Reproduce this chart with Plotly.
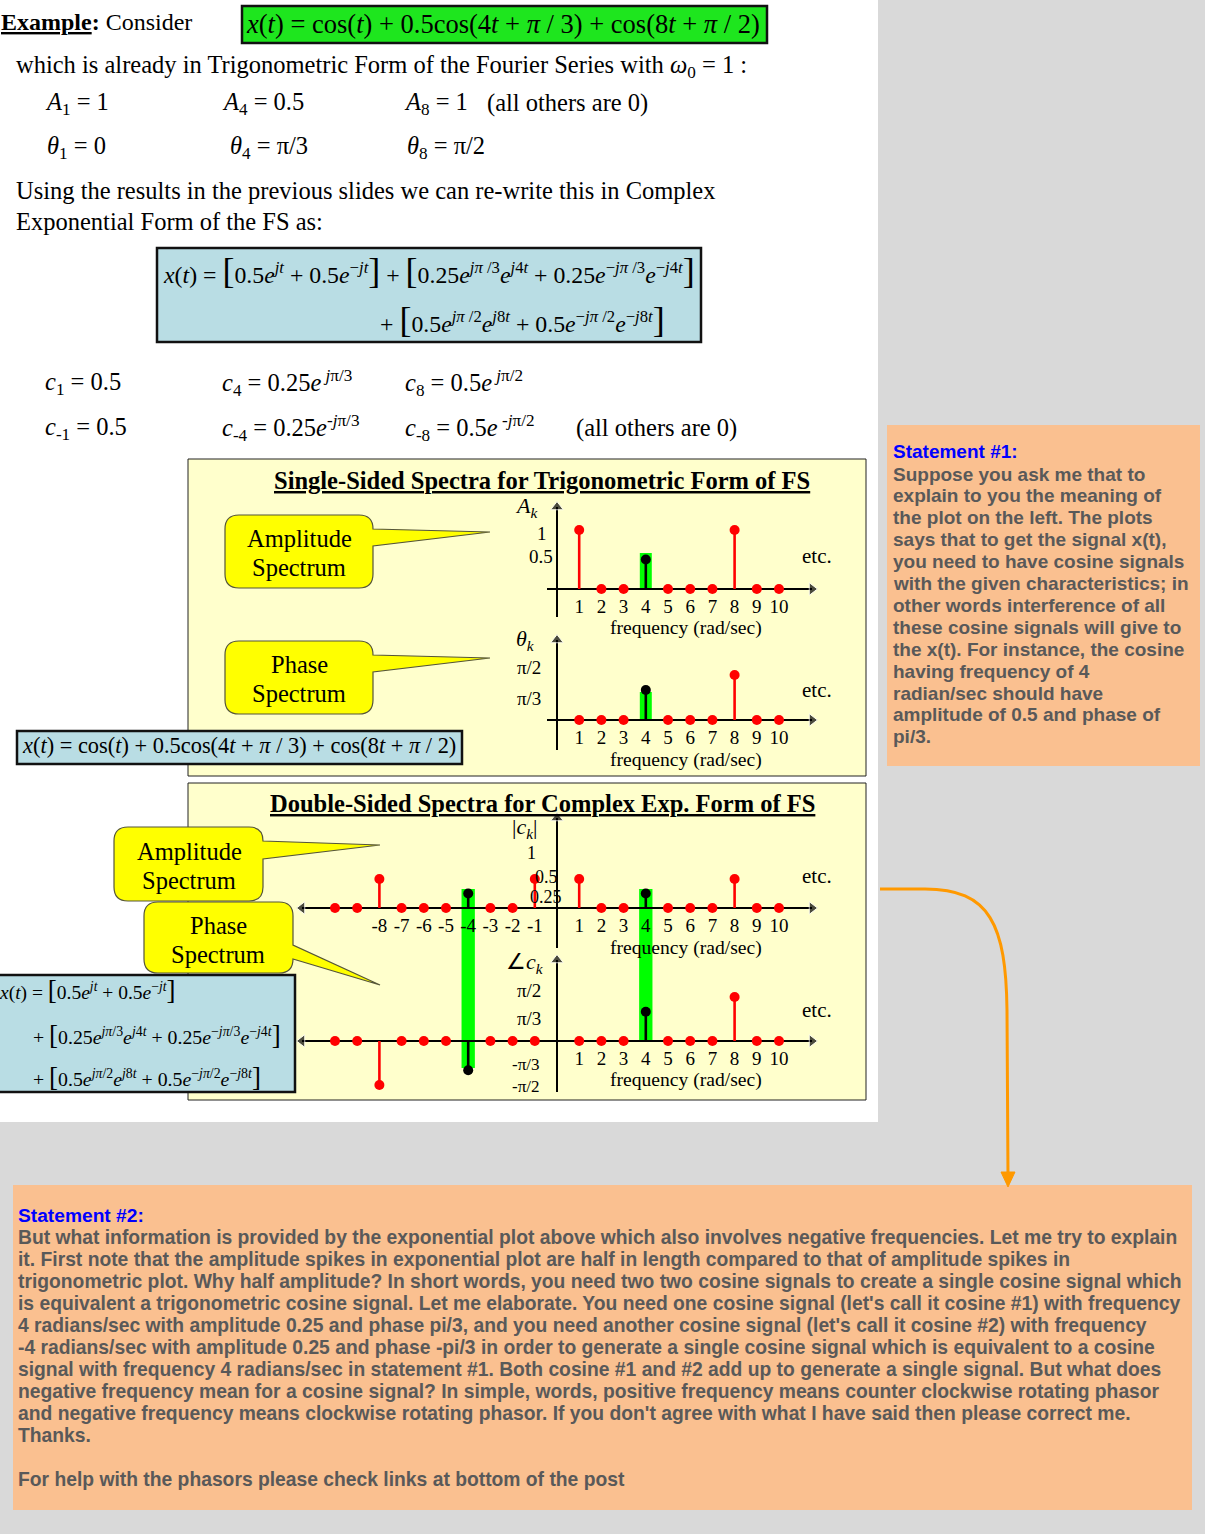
import math
import plotly.graph_objects as go

W, H = 1205, 1534
SERIF = "Liberation Serif, Times New Roman, serif"
SANS = "Liberation Sans, Arial, sans-serif"
PI = math.pi

# ---------------- data ----------------
k_single = list(range(1, 11))
A_k = [1, 0, 0, 0.5, 0, 0, 0, 1, 0, 0]
theta_k = [0, 0, 0, PI / 3, 0, 0, 0, PI / 2, 0, 0]
k_double = list(range(-10, 0)) + list(range(1, 11))
c_mag = [0, 0, 0.5, 0, 0, 0, 0.25, 0, 0, 0.5,
         0.5, 0, 0, 0.25, 0, 0, 0, 0.5, 0, 0]
c_phase = [0, 0, -PI / 2, 0, 0, 0, -PI / 3, 0, 0, 0,
           0, 0, 0, PI / 3, 0, 0, 0, PI / 2, 0, 0]
highlight_k = [-4, 4]

xt_single = list(range(1, 11))
xt_single_txt = [str(v) for v in xt_single]
xt_double = list(range(-8, 0)) + list(range(1, 11))
xt_double_txt = [str(v) for v in xt_double]
amp_ticks, amp_txt = [1, 0.5], ["1", "0.5"]
ph_ticks, ph_txt = [PI / 2, PI / 3], ["π/2", "π/3"]
cmag_ticks, cmag_txt = [1, 0.5, 0.25], ["1", "0.5", "0.25"]
cph_ticks, cph_txt = [PI / 2, PI / 3, -PI / 3, -PI / 2], ["π/2", "π/3", "-π/3", "-π/2"]

stmt1 = ["Suppose you ask me that to",
         "explain to you the meaning of",
         "the plot on the left. The plots",
         "says that to get the signal x(t),",
         "you need to have cosine signals",
         "with the given characteristics; in",
         "other words interference of all",
         "these cosine signals will give to",
         "the x(t). For instance, the cosine",
         "having frequency of 4",
         "radian/sec should have",
         "amplitude of 0.5 and phase of",
         "pi/3."]
stmt2 = ["But what information is provided by the exponential plot above which also involves negative frequencies. Let me try to explain",
         "it. First note that the amplitude spikes in exponential plot are half in length compared to that of amplitude spikes in",
         "trigonometric plot. Why half amplitude? In short words, you need two two cosine signals to create a single cosine signal which",
         "is equivalent a trigonometric cosine signal. Let me elaborate. You need one cosine signal (let's call it cosine #1) with frequency",
         "4 radians/sec with amplitude 0.25 and phase pi/3, and you need another cosine signal (let's call it cosine #2) with frequency",
         "-4 radians/sec with amplitude 0.25 and phase -pi/3 in order to generate a single cosine signal which is equivalent to a cosine",
         "signal with frequency 4 radians/sec in statement #1. Both cosine #1 and #2 add up to generate a single signal. But what does",
         "negative frequency mean for a cosine signal? In simple, words, positive frequency means counter clockwise rotating phasor",
         "and negative frequency means clockwise rotating phasor. If you don't agree with what I have said then please correct me.",
         "Thanks.",
         "",
         "For help with the phasors please check links at bottom of the post"]

# ---------------- helpers ----------------
fig = go.Figure()
shapes, anns = [], []
K0, DK = 557.0, 22.2


def kx(px):
    return (px - K0) / DK


def P(x, y):
    return f"{x / W:.5f},{1 - y / H:.5f}"


def rect(x0, y0, x1, y1, fill, line=None, lw=0, layer="below"):
    shapes.append(dict(type="rect", xref="paper", yref="paper",
                       x0=x0 / W, x1=x1 / W, y0=1 - y1 / H, y1=1 - y0 / H,
                       fillcolor=fill, line=dict(color=line or fill, width=lw), layer=layer))


def text(t, x, y, size=24.5, family=SERIF, color="black", xanchor="left"):
    if xanchor == "left":
        x -= 2
    anns.append(dict(text=t, x=x / W, y=1 - y / H, xref="paper", yref="paper",
                     showarrow=False, xanchor=xanchor, yanchor="middle", align="left",
                     font=dict(family=family, size=size, color=color)))


def callout(x0, y0, x1, y1, pa, pb, tip, r=14):
    pa = max(pa, y0 + r)
    pb = min(pb, y1 - r)
    d = (f"M{P(x0 + r, y0)} L{P(x1 - r, y0)} Q{P(x1, y0)} {P(x1, y0 + r)} "
         f"L{P(x1, pa)} L{P(*tip)} L{P(x1, pb)} L{P(x1, y1 - r)} "
         f"Q{P(x1, y1)} {P(x1 - r, y1)} L{P(x0 + r, y1)} Q{P(x0, y1)} {P(x0, y1 - r)} "
         f"L{P(x0, y0 + r)} Q{P(x0, y0)} {P(x0 + r, y0)} Z")
    shapes.append(dict(type="path", xref="paper", yref="paper", path=d,
                       fillcolor="#ffff00", line=dict(color="#55553a", width=1.2), layer="above"))


def it(s):
    return f"<i>{s}</i>"


def sup(s):
    return f"<sup>{s}</sup>"


def sub(s):
    return f"<sub>{s}</sub>"


def br(ch, size):
    return f'<span style="font-size:{size}px">{ch}</span>'


# ---------------- backgrounds ----------------
rect(0, 0, 878, 1122, "#ffffff")
rect(188, 459, 866, 776, "#ffffcc", "#222222", 1)
rect(188, 783, 866, 1100, "#ffffcc", "#222222", 1)

# ---------------- subplots ----------------
# label styling: (x centre in px, vertical nudge in px, font size) for each y tick label, in tick order
PLOTS = [
    dict(idx=1, base=589, scale=59.0, top=500, bot=625, xl=547, yb=617, yt=507, double=False,
         k=k_single, v=A_k, xt=xt_single, xtt=xt_single_txt, yt_v=amp_ticks, yt_t=amp_txt,
         lab=[(542, -3, 19), (541, 3, 19)]),
    dict(idx=2, base=720, scale=28.65, top=632, bot=755, xl=547, yb=750, yt=640, double=False,
         k=k_single, v=theta_k, xt=xt_single, xtt=xt_single_txt, yt_v=ph_ticks, yt_t=ph_txt,
         lab=[(529, 8, 19), (529, -8, 19)]),
    dict(idx=3, base=908, scale=58.0, top=812, bot=952, xl=302, yb=948, yt=818, double=True,
         k=k_double, v=c_mag, xt=xt_double, xtt=xt_double_txt, yt_v=cmag_ticks, yt_t=cmag_txt,
         lab=[(531, -3, 18), (546, 2, 18), (546, -4, 18)]),
    dict(idx=4, base=1041, scale=28.0, top=955, bot=1096, xl=302, yb=1092, yt=960, double=True,
         k=k_double, v=c_phase, xt=xt_single, xtt=xt_single_txt, yt_v=cph_ticks, yt_t=cph_txt,
         lab=[(529, 7, 19), (529, -7, 19), (525, 6, 17), (525, -2, 17)]),
]

layout_axes = {}
for p in PLOTS:
    i = p["idx"]
    xn = "x" if i == 1 else f"x{i}"
    yn = "y" if i == 1 else f"y{i}"
    xa = "xaxis" if i == 1 else f"xaxis{i}"
    ya = "yaxis" if i == 1 else f"yaxis{i}"
    layout_axes[xa] = dict(domain=[290 / W, 825 / W], range=[kx(290), kx(825)],
                           anchor="free", position=1 - p["base"] / H,
                           tickvals=p["xt"], ticktext=p["xtt"], ticks="",
                           showgrid=False, zeroline=False, showline=False,
                           ticklabelstandoff=4,
                           tickfont=dict(family=SERIF, size=19, color="black"))
    s = p["scale"]
    layout_axes[ya] = dict(domain=[1 - p["bot"] / H, 1 - p["top"] / H],
                           range=[(p["base"] - p["bot"]) / s, (p["base"] - p["top"]) / s],
                           anchor="free", position=K0 / W, showticklabels=False,
                           showgrid=False, zeroline=False, showline=False)
    # y tick labels placed on the data scale (with small typographic nudges)
    for val, lbl, (xc, dy, fs) in zip(p["yt_v"], p["yt_t"], p["lab"]):
        anns.append(dict(text=lbl, x=xc / W, xref="paper", y=val, yref=yn, yshift=dy,
                         showarrow=False, xanchor="center", yanchor="middle",
                         font=dict(family=SERIF, size=fs, color="black")))
    # axis lines with arrow heads
    fig.add_trace(go.Scatter(x=[kx(p["xl"]), kx(812)], y=[0, 0], xaxis=xn, yaxis=yn,
                             mode="lines+markers", hoverinfo="skip", showlegend=False,
                             line=dict(color="black", width=2),
                             marker=dict(color="black", size=[11 if p["double"] else 0, 11],
                                         symbol=["triangle-left", "triangle-right"])))
    fig.add_trace(go.Scatter(x=[0, 0], y=[(p["base"] - p["yb"]) / s, (p["base"] - p["yt"]) / s],
                             xaxis=xn, yaxis=yn, mode="lines+markers", hoverinfo="skip",
                             showlegend=False, line=dict(color="black", width=2),
                             marker=dict(color="black", size=[0, 11], symbol="triangle-up")))
    # stems
    for color, hl in (("#ff0000", False), ("#000000", True)):
        sx, sy, mx, my = [], [], [], []
        for k, v in zip(p["k"], p["v"]):
            if (k in highlight_k) != hl:
                continue
            mx.append(k)
            my.append(v)
            if v != 0:
                sx += [k, k, None]
                sy += [0, v, None]
        fig.add_trace(go.Scatter(x=sx, y=sy, xaxis=xn, yaxis=yn, mode="lines",
                                 line=dict(color=color, width=2.6), hoverinfo="skip",
                                 showlegend=False))
        fig.add_trace(go.Scatter(x=mx, y=my, xaxis=xn, yaxis=yn, mode="markers",
                                 marker=dict(color=color, size=10), hoverinfo="skip",
                                 showlegend=False, cliponaxis=False))

# green highlights (under stems)
GREEN = "#00ff00"
for k in highlight_k:
    if k > 0:
        shapes.append(dict(type="rect", xref="x", yref="paper", x0=k - 0.27, x1=k + 0.27,
                           y0=1 - 589 / H, y1=1 - 553 / H, fillcolor=GREEN,
                           line=dict(width=0), layer="below"))
        shapes.append(dict(type="rect", xref="x2", yref="paper", x0=k - 0.27, x1=k + 0.27,
                           y0=1 - 720 / H, y1=1 - 692 / H, fillcolor=GREEN,
                           line=dict(width=0), layer="below"))
    y_bottom = 1068 if k < 0 else 1042
    shapes.append(dict(type="rect", xref="x3", yref="paper", x0=k - 0.3, x1=k + 0.3,
                       y0=1 - y_bottom / H, y1=1 - 889 / H, fillcolor=GREEN,
                       line=dict(width=0), layer="below"))

# ---------------- top text ----------------
rect(242, 6, 767, 43, "#1ee61e", "#111111", 2.5, layer="above")
text(f"<b><u>Example</u>:</b> Consider", 1, 22, 24)
eq_top = (f"{it('x')}({it('t')}) = cos({it('t')}) + 0.5cos(4{it('t')} + {it('π')} / 3)"
          f" + cos(8{it('t')} + {it('π')} / 2)")
text(eq_top, 246, 24, 26.5)
text(f"which is already in Trigonometric Form of the Fourier Series with {it('ω')}{sub('0')} = 1 :",
     16, 66)
text(f"{it('A')}{sub('1')} = 1", 45, 103)
text(f"{it('A')}{sub('4')} = 0.5", 222, 103)
text(f"{it('A')}{sub('8')} = 1", 404, 103)
text("(all others are 0)", 487, 103)
text(f"{it('θ')}{sub('1')} = 0", 47, 147)
text(f"{it('θ')}{sub('4')} = π/3", 230, 147)
text(f"{it('θ')}{sub('8')} = π/2", 407, 147)
text("Using the results in the previous slides we can re-write this in Complex", 16, 191)
text("Exponential Form of the FS as:", 16, 221)

# big equation box
rect(157, 248, 701, 342, "#b9dde4", "#111111", 2.5, layer="above")
LB, RB = br("[", 36), br("]", 36)
e = it("e")
eq1 = (f"{it('x')}({it('t')}) = {LB}0.5{e}{sup(it('jt'))} + 0.5{e}{sup('−' + it('jt'))}{RB}"
       f" + {LB}0.25{e}{sup(it('jπ') + ' /3')}{e}{sup(it('j') + '4' + it('t'))}"
       f" + 0.25{e}{sup('−' + it('jπ') + ' /3')}{e}{sup('−' + it('j') + '4' + it('t'))}{RB}")
eq2 = (f"+ {LB}0.5{e}{sup(it('jπ') + ' /2')}{e}{sup(it('j') + '8' + it('t'))}"
       f" + 0.5{e}{sup('−' + it('jπ') + ' /2')}{e}{sup('−' + it('j') + '8' + it('t'))}{RB}")
text(eq1, 163, 271, 23.8)
text(eq2, 380, 320, 23.8)

text(f"{it('c')}{sub('1')} = 0.5", 45, 383)
text(f"{it('c')}{sub('4')} = 0.25{e}{sup(' ' + it('j') + 'π/3')}", 222, 383)
text(f"{it('c')}{sub('8')} = 0.5{e}{sup(' ' + it('j') + 'π/2')}", 405, 383)
text(f"{it('c')}{sub('-1')} = 0.5", 45, 428)
text(f"{it('c')}{sub('-4')} = 0.25{e}{sup('-' + it('j') + 'π/3')}", 222, 428)
text(f"{it('c')}{sub('-8')} = 0.5{e}{sup(' -' + it('j') + 'π/2')}", 405, 428)
text("(all others are 0)", 576, 428)

# ---------------- panel 1 ----------------
text("<b><u>Single-Sided Spectra for Trigonometric Form of FS</u></b>", 542, 480, 24.5, xanchor="center")
callout(225, 515, 373, 588, 527, 546, (490, 532))
text("Amplitude", 299, 538, 24.5, xanchor="center")
text("Spectrum", 299, 568, 24.5, xanchor="center")
callout(225, 641, 373, 714, 654, 672, (490, 658))
text("Phase", 299, 664, 24.5, xanchor="center")
text("Spectrum", 299, 693, 24.5, xanchor="center")
text(f"{it('A')}{sub(it('k'))}", 515, 507, 22)
text(f"{it('θ')}{sub(it('k'))}", 516, 640, 22)
text("frequency (rad/sec)", 686, 628, 19.6, xanchor="center")
text("frequency (rad/sec)", 686, 760, 19.6, xanchor="center")
text("etc.", 802, 556, 21)
text("etc.", 802, 690, 21)
rect(17, 731, 462, 764, "#b9dde4", "#111111", 2.5, layer="above")
text(eq_top, 22, 746, 22.4)

# ---------------- panel 2 ----------------
text("<b><u>Double-Sided Spectra for Complex Exp. Form of FS</u></b>", 542, 804, 24.5, xanchor="center")
text(f"|{it('c')}{sub(it('k'))}|", 512, 828, 22)
text(f"∠{it('c')}{sub(it('k'))}", 506, 963, 22)
text("frequency (rad/sec)", 686, 948, 19.6, xanchor="center")
text("frequency (rad/sec)", 686, 1080, 19.6, xanchor="center")
text("etc.", 802, 876, 21)
text("etc.", 802, 1010, 21)
callout(114, 827, 263, 901, 839, 859, (380, 845))
text("Amplitude", 189, 851, 24.5, xanchor="center")
text("Spectrum", 189, 880, 24.5, xanchor="center")
callout(144, 902, 293, 973, 945, 963, (380, 985))
text("Phase", 218, 925, 24.5, xanchor="center")
text("Spectrum", 218, 954, 24.5, xanchor="center")

rect(-3, 975, 295, 1092, "#b9dde4", "#111111", 2.5, layer="above")
LB2, RB2 = br("[", 27), br("]", 27)
b1 = f"{it('x')}({it('t')}) = {LB2}0.5{e}{sup(it('jt'))} + 0.5{e}{sup('−' + it('jt'))}{RB2}"
b2 = (f"+ {LB2}0.25{e}{sup(it('jπ') + '/3')}{e}{sup(it('j') + '4' + it('t'))}"
      f" + 0.25{e}{sup('−' + it('jπ') + '/3')}{e}{sup('−' + it('j') + '4' + it('t'))}{RB2}")
b3 = (f"+ {LB2}0.5{e}{sup(it('jπ') + '/2')}{e}{sup(it('j') + '8' + it('t'))}"
      f" + 0.5{e}{sup('−' + it('jπ') + '/2')}{e}{sup('−' + it('j') + '8' + it('t'))}{RB2}")
text(b1, -1, 990, 19.5)
text(b2, 33, 1035, 19.8)
text(b3, 33, 1077, 19.8)

# ---------------- statements ----------------
PEACH = "#fac090"
rect(887, 425, 1200, 766, PEACH, layer="above")
text("<b>Statement #1:</b>", 893, 452, 19, SANS, "#0000ff")
for n, line in enumerate(stmt1):
    text(f"<b>{line}</b>", 893, 474 + 21.9 * n, 19, SANS, "#595959")

rect(13, 1185, 1192, 1510, PEACH, layer="above")
text("<b>Statement #2:</b>", 18, 1215, 19.2, SANS, "#0000ff")
for n, line in enumerate(stmt2):
    if line:
        text(f"<b>{line}</b>", 18, 1237 + 22 * n, 19.3, SANS, "#595959")

# orange connector arrow
ORANGE = "#ff9900"
arrow_path = (f"M{P(880, 889)} L{P(925, 889)} C{P(990, 889)} {P(1006, 925)} {P(1007, 1010)} "
              f"L{P(1008, 1174)}")
shapes.append(dict(type="path", xref="paper", yref="paper", path=arrow_path,
                   line=dict(color=ORANGE, width=3), layer="above"))
shapes.append(dict(type="path", xref="paper", yref="paper",
                   path=f"M{P(1001, 1172)} L{P(1015, 1172)} L{P(1008, 1187)} Z",
                   fillcolor=ORANGE, line=dict(color=ORANGE, width=1), layer="above"))

fig.update_layout(width=W, height=H, margin=dict(l=0, r=0, t=0, b=0),
                  paper_bgcolor="#d9d9d9", plot_bgcolor="rgba(0,0,0,0)",
                  showlegend=False, shapes=shapes, annotations=anns, **layout_axes)

fig.write_html("out.html", config={"displayModeBar": False},
               post_script="document.body.style.margin='0';document.body.style.overflow='hidden';")
